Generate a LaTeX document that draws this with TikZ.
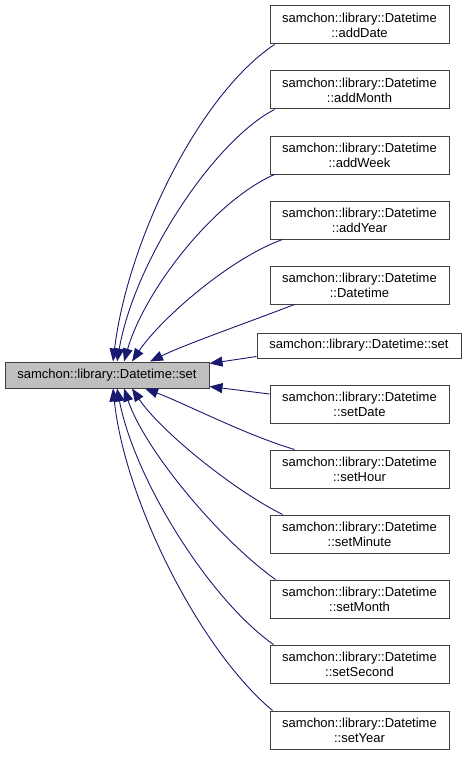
\documentclass[tikz,border=0pt]{standalone}
\usepackage{fontspec}
\setmainfont{Liberation Sans}
\usetikzlibrary{arrows.meta}
\definecolor{edgeblue}{HTML}{191970}
\definecolor{boxgray}{HTML}{BFBFBF}
\definecolor{boxline}{HTML}{404040}
\tikzset{
  fn/.style={draw=boxline, line width=1pt, fill=white, minimum width=179pt, minimum height=38pt,
    inner sep=0pt, align=center, font=\fontsize{13pt}{15pt}\selectfont},
  fnone/.style={draw=boxline, line width=1pt, fill=white, minimum width=204pt, minimum height=25pt,
    inner sep=0pt, font=\fontsize{13pt}{15pt}\selectfont},
  mainbox/.style={draw=boxline, line width=1pt, fill=boxgray, minimum width=204pt, minimum height=26pt,
    inner sep=0pt, font=\fontsize{13pt}{15pt}\selectfont},
  edge/.style={draw=edgeblue, line width=0.9pt, -{Triangle[length=13pt,width=10pt]}}
}
\begin{document}
\begin{tikzpicture}[x=1pt,y=-1pt]
\useasboundingbox (0,0) rectangle (467,757);
\node[mainbox] (main) at (107,375) {samchon::library::Datetime::set};
\node[fn] (n1) at (359.5,25) {samchon::library::Datetime\\::addDate};
\node[fn] (n2) at (359.5,90) {samchon::library::Datetime\\::addMonth};
\node[fn] (n3) at (359.5,155) {samchon::library::Datetime\\::addWeek};
\node[fn] (n4) at (359.5,220) {samchon::library::Datetime\\::addYear};
\node[fn] (n5) at (359.5,285) {samchon::library::Datetime\\::Datetime};
\node[fnone] (n6) at (359,345.5) {samchon::library::Datetime::set};
\node[fn] (n7) at (359.5,404) {samchon::library::Datetime\\::setDate};
\node[fn] (n8) at (359.5,469) {samchon::library::Datetime\\::setHour};
\node[fn] (n9) at (359.5,534) {samchon::library::Datetime\\::setMinute};
\node[fn] (n10) at (359.5,599) {samchon::library::Datetime\\::setMonth};
\node[fn] (n11) at (359.5,664) {samchon::library::Datetime\\::setSecond};
\node[fn] (n12) at (359.5,730) {samchon::library::Datetime\\::setYear};

\draw[edge] ([xshift=5pt]n1.south west) .. controls +(-75,50) and +(15,-122) .. ([xshift=6pt]main.north);
\draw[edge] ([xshift=5pt]n2.south west) .. controls +(-60,31) and +(18,-102) .. ([xshift=10pt]main.north);
\draw[edge] ([xshift=5pt]n3.south west) .. controls +(-60,26) and +(21,-72) .. ([xshift=17pt]main.north);
\draw[edge] ([xshift=13pt]n4.south west) .. controls +(-53,19) and +(28,-42) .. ([xshift=25pt]main.north);
\draw[edge] ([xshift=25pt]n5.south west) .. controls +(-55,21) and +(35,-17) .. ([xshift=43pt]main.north);
\draw[edge] ([yshift=2pt]n6.south west) -- ([yshift=-2pt]main.north east);
\draw[edge] ([yshift=10pt]n7.west) -- ([yshift=2pt]main.south east);
\draw[edge] ([xshift=25pt]n8.north west) .. controls +(-50,-15) and +(40,15) .. ([xshift=38pt]main.south);
\draw[edge] ([xshift=13pt]n9.north west) .. controls +(-50,-25) and +(28,42) .. ([xshift=25pt]main.south);
\draw[edge] ([xshift=6pt]n10.north west) .. controls +(-56,-40) and +(21,62) .. ([xshift=17pt]main.south);
\draw[edge] ([xshift=4pt]n11.north west) .. controls +(-64,-45) and +(18,92) .. ([xshift=10pt]main.south);
\draw[edge] ([xshift=3pt]n12.north west) .. controls +(-73,-61) and +(12,112) .. ([xshift=6pt]main.south);
\end{tikzpicture}
\end{document}
